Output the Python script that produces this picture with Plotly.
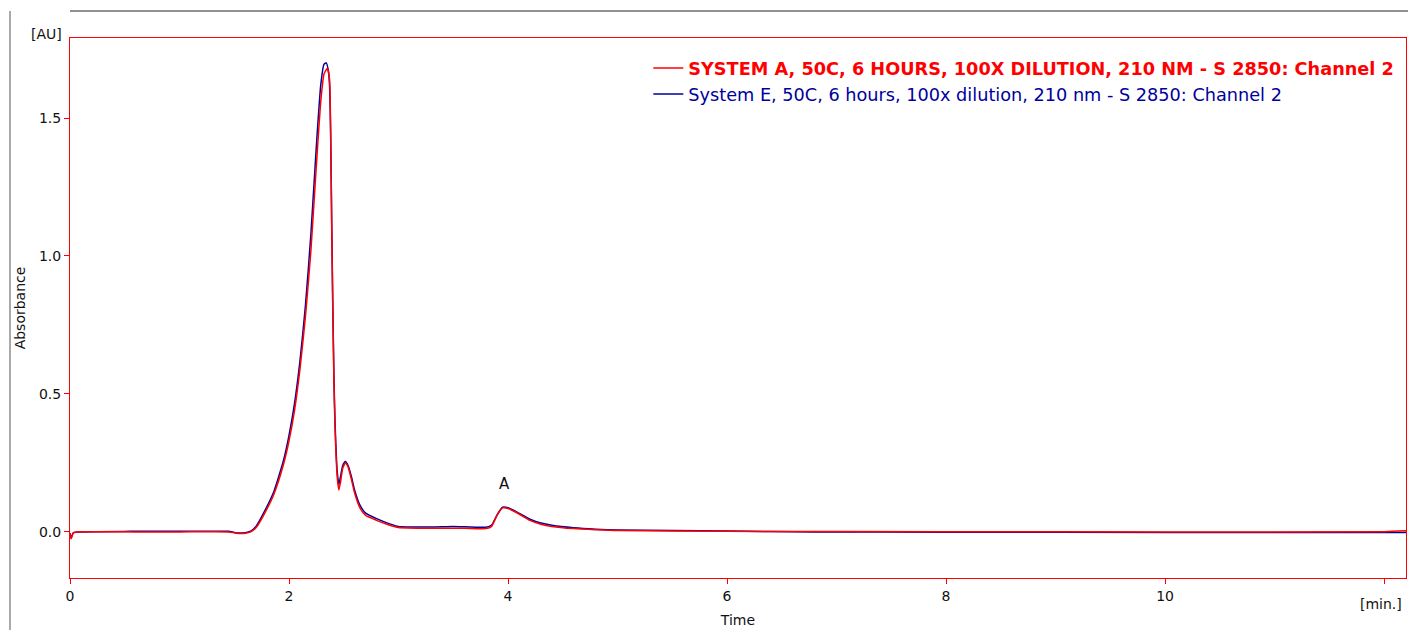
import plotly.graph_objects as go

# Retention time (min) and absorbance (AU) for the two chromatograms
time_a = [0.0, 0.01, 0.03, 0.06, 0.6, 1.0, 1.45, 1.5, 1.55, 1.6, 1.65, 1.7, 1.77, 1.86,
          1.95, 2.0, 2.05, 2.1, 2.15, 2.2, 2.25, 2.29, 2.32, 2.35, 2.37, 2.38,
          2.39, 2.40, 2.41, 2.42, 2.44, 2.455, 2.47, 2.49, 2.515, 2.54, 2.57, 2.6, 2.65,
          2.7, 2.8, 2.9, 3.0, 3.3, 3.6, 3.8, 3.85, 3.9, 3.95, 4.0, 4.1, 4.2, 4.3, 4.4,
          4.6, 4.8, 5.0, 6.0, 8.0, 10.0, 12.0, 12.2]
abs_a = [-0.005, -0.025, -0.004, 0.0, 0.0, 0.0, 0.0, -0.003, -0.006, -0.005, 0.0, 0.016,
         0.062, 0.135, 0.245, 0.33, 0.44, 0.59, 0.78, 1.02, 1.33, 1.56, 1.66,
         1.68, 1.64, 1.45, 1.1, 0.8, 0.55, 0.38, 0.2, 0.152, 0.18, 0.23, 0.25, 0.235, 0.19,
         0.14, 0.085, 0.06, 0.042, 0.027, 0.016, 0.013, 0.013, 0.012, 0.02, 0.06, 0.087,
         0.085, 0.065, 0.042, 0.028, 0.02, 0.012, 0.008, 0.005, 0.002, 0.001, 0.0, 0.001,
         0.004]

time_e = [0.0, 0.01, 0.03, 0.06, 0.55, 1.0, 1.45, 1.5, 1.55, 1.6, 1.65, 1.7, 1.77, 1.86,
          1.95, 2.0, 2.05, 2.1, 2.15, 2.2, 2.25, 2.29, 2.32, 2.34, 2.36, 2.37, 2.38,
          2.39, 2.40, 2.41, 2.42, 2.44, 2.455, 2.47, 2.49, 2.515, 2.54, 2.57, 2.6, 2.65,
          2.7, 2.8, 2.9, 3.0, 3.3, 3.5, 3.8, 3.85, 3.9, 3.95, 4.0, 4.1, 4.2, 4.3, 4.4,
          4.6, 4.8, 5.0, 6.0, 6.8, 8.0, 10.0, 12.2]
abs_e = [-0.004, -0.022, -0.003, 0.0, 0.002, 0.002, 0.002, -0.002, -0.004, -0.003, 0.003,
         0.021, 0.07, 0.145, 0.26, 0.35, 0.465, 0.62, 0.82, 1.08, 1.4, 1.62, 1.695,
         1.70, 1.67, 1.62, 1.45, 1.12, 0.82, 0.57, 0.4, 0.22, 0.172, 0.2, 0.24, 0.255,
         0.24, 0.2, 0.15, 0.095, 0.068, 0.048, 0.032, 0.02, 0.018, 0.02, 0.017, 0.025,
         0.062, 0.09, 0.088, 0.068, 0.046, 0.032, 0.024, 0.015, 0.01, 0.007, 0.003, 0.0,
         -0.001, -0.002, -0.002]

name_a = "SYSTEM A, 50C, 6 HOURS, 100X DILUTION, 210 NM - S 2850: Channel 2"
name_e = "System E, 50C, 6 hours, 100x dilution, 210 nm - S 2850: Channel 2"

x_ticks = [0, 2, 4, 6, 8, 10, 12]
x_tick_text = ["0", "2", "4", "6", "8", "10", ""]
y_ticks = [0.0, 0.5, 1.0, 1.5]

peak_label = "A"
peak_label_pos = (3.97, 0.175)

RED = "#ff0000"
BLUE = "#00009c"
FONT = "DejaVu Sans"
TXT = "#111111"

fig = go.Figure()
fig.add_trace(go.Scatter(
    x=time_e, y=abs_e, mode="lines", name=f"<span style='color:{BLUE}'>{name_e}</span>",
    line=dict(color=BLUE, width=1.5, shape="spline", smoothing=0.5), legendrank=2))
fig.add_trace(go.Scatter(
    x=time_a, y=abs_a, mode="lines", name=f"<span style='color:{RED}'><b>{name_a}</b></span>",
    line=dict(color=RED, width=1.5, shape="spline", smoothing=0.5), legendrank=1))

axis_common = dict(showline=True, linecolor=RED, linewidth=1, mirror=True, showgrid=False,
                   zeroline=False, ticks="outside", ticklen=5, tickcolor=RED,
                   tickfont=dict(family=FONT, size=14, color=TXT))

fig.update_xaxes(range=[0, 12.2], tickvals=x_ticks, ticktext=x_tick_text,
                 title=dict(text="Time", font=dict(family=FONT, size=14, color=TXT),
                            standoff=12), **axis_common)
fig.update_yaxes(range=[-0.167, 1.79], tickvals=y_ticks, tickformat=".1f",
                 title=dict(text="Absorbance", font=dict(family=FONT, size=14, color=TXT),
                            standoff=10), **axis_common)

fig.add_annotation(x=peak_label_pos[0], y=peak_label_pos[1], text=peak_label, showarrow=False,
                   font=dict(family=FONT, size=15, color=TXT))
fig.add_annotation(xref="paper", yref="paper", x=0.0, y=1.0, xanchor="right", yanchor="bottom",
                   xshift=-6, yshift=-6, text="[AU]", showarrow=False,
                   font=dict(family=FONT, size=14, color=TXT))
fig.add_annotation(xref="paper", yref="paper", x=1.0, y=0.0, xanchor="right", yanchor="top",
                   xshift=-2, yshift=-16, text="[min.]", showarrow=False,
                   font=dict(family=FONT, size=14, color=TXT))

# frame lines around the chart panel
fig.add_shape(type="line", xref="paper", yref="paper", x0=-0.0449, x1=-0.0449, y0=1.05,
              y1=-0.1, line=dict(color="#555555", width=1))
fig.add_shape(type="line", xref="paper", yref="paper", x0=0.0, x1=1.01, y0=1.05, y1=1.05,
              line=dict(color="#222222", width=1))

fig.update_layout(
    width=1408, height=630, autosize=False,
    margin=dict(l=70, r=2, t=38, b=52),
    paper_bgcolor="white", plot_bgcolor="white",
    showlegend=True,
    legend=dict(x=0.995, y=0.978, xanchor="right", yanchor="top",
                bgcolor="rgba(0,0,0,0)", font=dict(family=FONT, size=17.7),
                itemwidth=30),
)

fig.write_html("out.html")
